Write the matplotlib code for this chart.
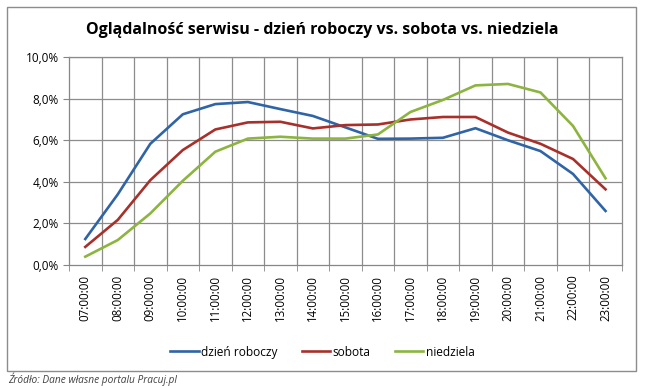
import numpy as np
import matplotlib.pyplot as plt
from matplotlib.patches import Rectangle
from matplotlib.ticker import FuncFormatter

plt.rcParams['font.family'] = ['Open Sans', 'DejaVu Sans']

godziny = ['07:00:00', '08:00:00', '09:00:00', '10:00:00', '11:00:00', '12:00:00',
           '13:00:00', '14:00:00', '15:00:00', '16:00:00', '17:00:00', '18:00:00',
           '19:00:00', '20:00:00', '21:00:00', '22:00:00', '23:00:00']
dzien_roboczy = [1.25, 3.4, 5.83, 7.25, 7.74, 7.84, 7.5, 7.17, 6.62, 6.07, 6.08,
                 6.12, 6.58, 6.0, 5.48, 4.38, 2.6]
sobota = [0.87, 2.17, 4.08, 5.53, 6.52, 6.86, 6.89, 6.57, 6.73, 6.76, 7.0,
          7.12, 7.12, 6.37, 5.83, 5.1, 3.64]
niedziela = [0.4, 1.2, 2.48, 4.05, 5.45, 6.08, 6.17, 6.08, 6.08, 6.28, 7.36,
             7.94, 8.64, 8.71, 8.3, 6.69, 4.17]

fig = plt.figure(figsize=(6.45, 3.86), dpi=100)
ax = fig.add_axes([0.107, 0.3135, 0.857, 0.5385])

x = np.arange(len(godziny))
ax.plot(x, dzien_roboczy, color='#2F64A6', lw=1.9, label='dzień roboczy')
ax.plot(x, sobota, color='#A8302A', lw=1.9, label='sobota')
ax.plot(x, niedziela, color='#8CB43F', lw=1.9, label='niedziela')

ax.set_xlim(-0.5, len(godziny) - 0.5)
ax.set_ylim(0, 10)
ax.set_yticks(np.arange(0, 10.1, 2))
ax.yaxis.set_major_formatter(FuncFormatter(lambda v, p: f'{v:.1f}%'.replace('.', ',')))
ax.set_xticks(x)
ax.set_xticklabels(godziny, rotation=90, fontsize=8.3)
ax.set_xticks(np.arange(-0.5, len(godziny), 1), minor=True)
ax.tick_params(axis='x', which='major', length=0, pad=7)
ax.tick_params(axis='x', which='minor', length=4, color='#868686')
ax.tick_params(axis='y', length=4, color='#868686', labelsize=8.5)
ax.grid(False)
for yv in np.arange(2, 10.1, 2):
    ax.axhline(yv, color='#8C8C8C', lw=0.9, zorder=0)
for xv in np.arange(0.5, len(godziny) - 0.5, 1):
    ax.axvline(xv, color='#8C8C8C', lw=0.9, zorder=0)
for s in ['top', 'right']:
    ax.spines[s].set_color('#8C8C8C')
    ax.spines[s].set_linewidth(0.9)
for s in ['left', 'bottom']:
    ax.spines[s].set_color('#868686')
    ax.spines[s].set_linewidth(0.9)

fig.text(0.5, 0.922, 'Oglądalność serwisu - dzień roboczy vs. sobota vs. niedziela',
         ha='center', va='center', fontsize=11.5, fontweight='bold')

fig.legend(loc='center', bbox_to_anchor=(0.5, 0.088), ncol=3, frameon=False,
           fontsize=8.6, handlelength=2.4, handletextpad=0.2, columnspacing=2.0)

fig.patches.append(Rectangle((0.011, 0.038), 0.975, 0.944, transform=fig.transFigure,
                             fill=False, edgecolor='#8C8C8C', lw=1))
fig.text(0.012, 0.018, 'Źródło: Dane własne portalu Pracuj.pl', fontsize=7.3,
         style='italic', color='#404040', va='center')

fig.savefig('out.png', dpi=100)
